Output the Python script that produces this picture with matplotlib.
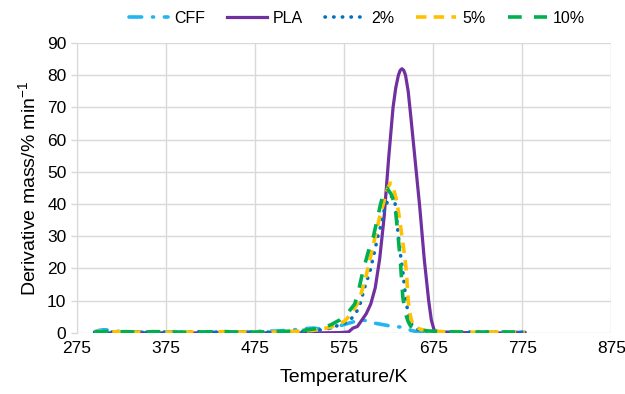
import matplotlib
matplotlib.use("Agg")
import matplotlib.pyplot as plt

plt.rcParams['font.family'] = ['Liberation Sans', 'DejaVu Sans']
plt.rcParams['mathtext.default'] = 'regular'

# ---- data ----
cff_T = [295,300,305,310,315,320,330,340,350,360,380,400,420,440,460,480,500,510,520,530,
         540,550,560,570,580,590,595,600,605,610,620,630,640,645,650,655,660,670,680,700,
         720,740,760,778]
cff_v = [0.3,0.8,1.0,0.9,0.6,0.5,0.4,0.3,0.3,0.2,0.3,0.2,0.3,0.4,0.3,0.5,0.6,0.8,1.0,1.3,
         1.5,1.2,1.5,2.2,3.0,3.8,4.0,3.8,3.4,3.0,2.5,2.0,1.8,1.3,0.8,0.5,0.4,0.3,0.3,0.2,
         0.2,0.2,0.2,0.2]

pla_T = [295,320,350,400,450,500,540,570,580,585,590,595,600,605,610,615,620,625,630,633,
         636,638,640,642,644,647,650,655,660,665,670,673,676,680,700,740,778]
pla_v = [0,0,0,0,0,0,0,0.1,0.3,1.5,2,4,6,9,14,23,36,54,70,76,
         80,81.5,82,81.5,80,75,67,53,39,23,10,4,1,0.2,0.1,0,0]

p2_T = [295,300,310,320,330,340,350,360,380,400,420,440,460,480,500,520,530,540,550,560,
        570,575,580,585,590,593,598,604,609,613,617,620,624,628,632,636,638,641,643,645,
        648,650,655,660,670,680,690,700,720,740,760,778]
p2_v = [0.2,0.3,0.4,0.2,0.3,0.4,0.2,0.3,0.2,0.3,0.4,0.2,0.3,0.3,0.2,0.4,0.5,0.6,1.0,1.5,
        2.5,3,3.5,5,7,9,14,19,25,30,34,38,41,42.5,41,30,25,19,14,9,
        5,3,1.5,0.8,0.5,0.4,0.3,0.3,0.2,0.3,0.2,0.2]

p5_T = [295,300,310,320,330,340,350,360,380,400,420,440,460,480,500,520,530,540,550,560,
        570,575,580,585,590,595,600,605,610,615,620,624,627,630,634,637,640,643,645,647,
        649,651,655,660,670,680,690,700,720,740,760,778]
p5_v = [0.3,0.5,0.2,0.4,0.3,0.2,0.4,0.3,0.2,0.3,0.2,0.4,0.3,0.2,0.3,0.5,0.6,0.8,1.2,1.8,
        3,3.5,5,7,9,13,18,24,30,36,41,45,46.5,45.5,41,36,30,24,19,10,
        6,3.5,2,1.2,0.6,0.5,0.3,0.4,0.2,0.3,0.2,0.2]

p10_T = [295,300,310,320,330,340,350,360,380,400,420,440,460,480,500,520,530,540,550,560,
         570,580,587,592,596,600,604,608,612,616,620,623,628,632,635,638,641,644,647,650,
         655,660,670,680,690,700,720,740,760,778]
p10_v = [0.4,0.3,0.5,0.3,0.4,0.3,0.2,0.4,0.3,0.2,0.3,0.4,0.2,0.3,0.4,0.6,0.8,1.2,1.5,2.5,
         4,6.5,9,14,19,23,27,30,35,40,44,45,43,40,32,23,11,6,3.5,2,
         1,0.8,0.6,0.5,0.4,0.3,0.3,0.2,0.3,0.2]

labels = ['CFF', 'PLA', '2%', '5%', '10%']
x_ticks = [275, 375, 475, 575, 675, 775, 875]
y_ticks = [0, 10, 20, 30, 40, 50, 60, 70, 80, 90]

# ---- figure ----
fig = plt.figure(figsize=(6.25, 3.94), dpi=100)
ax = fig.add_axes([0.123, 0.155, 0.855, 0.736])

lw = 2.6
ax.plot(cff_T, cff_v, color='#22B5F0', lw=lw, dashes=(3.5, 3, 0.3, 3),
        dash_capstyle='round', label=labels[0])
ax.plot(pla_T, pla_v, color='#7030A0', lw=2.3, label=labels[1])
ax.plot(p2_T, p2_v, color='#0070C0', lw=lw, dashes=(0.1, 2.3),
        dash_capstyle='round', label=labels[2])
ax.plot(p5_T, p5_v, color='#FFC000', lw=lw, dashes=(2.9, 2.0), label=labels[3])
ax.plot(p10_T, p10_v, color='#00B050', lw=lw, dashes=(3.8, 3.4), label=labels[4])

ax.set_xlim(275, 875)
ax.set_ylim(0, 90)
ax.set_xticks(x_ticks)
ax.set_yticks(y_ticks)
ax.grid(True, color='#d9d9d9', lw=1)
ax.set_axisbelow(True)
for s in ['top', 'right', 'bottom']:
    ax.spines[s].set_visible(False)
ax.spines['left'].set_color('#d9d9d9')
ax.tick_params(axis='both', colors='#d9d9d9', labelcolor='black', labelsize=12.5,
               length=4, width=1)
ax.tick_params(axis='x', length=0, pad=6)

ax.set_xlabel('Temperature/K', fontsize=14, labelpad=9)
ax.set_ylabel('Derivative mass/% min$^{\u2212 1}$', fontsize=14, labelpad=6)

fig.legend(loc='center', bbox_to_anchor=(0.571, 0.954), ncol=5, frameon=False,
           fontsize=11.5, handlelength=2.5, columnspacing=1.4, handletextpad=0.35)

fig.savefig('out.png', dpi=100)
